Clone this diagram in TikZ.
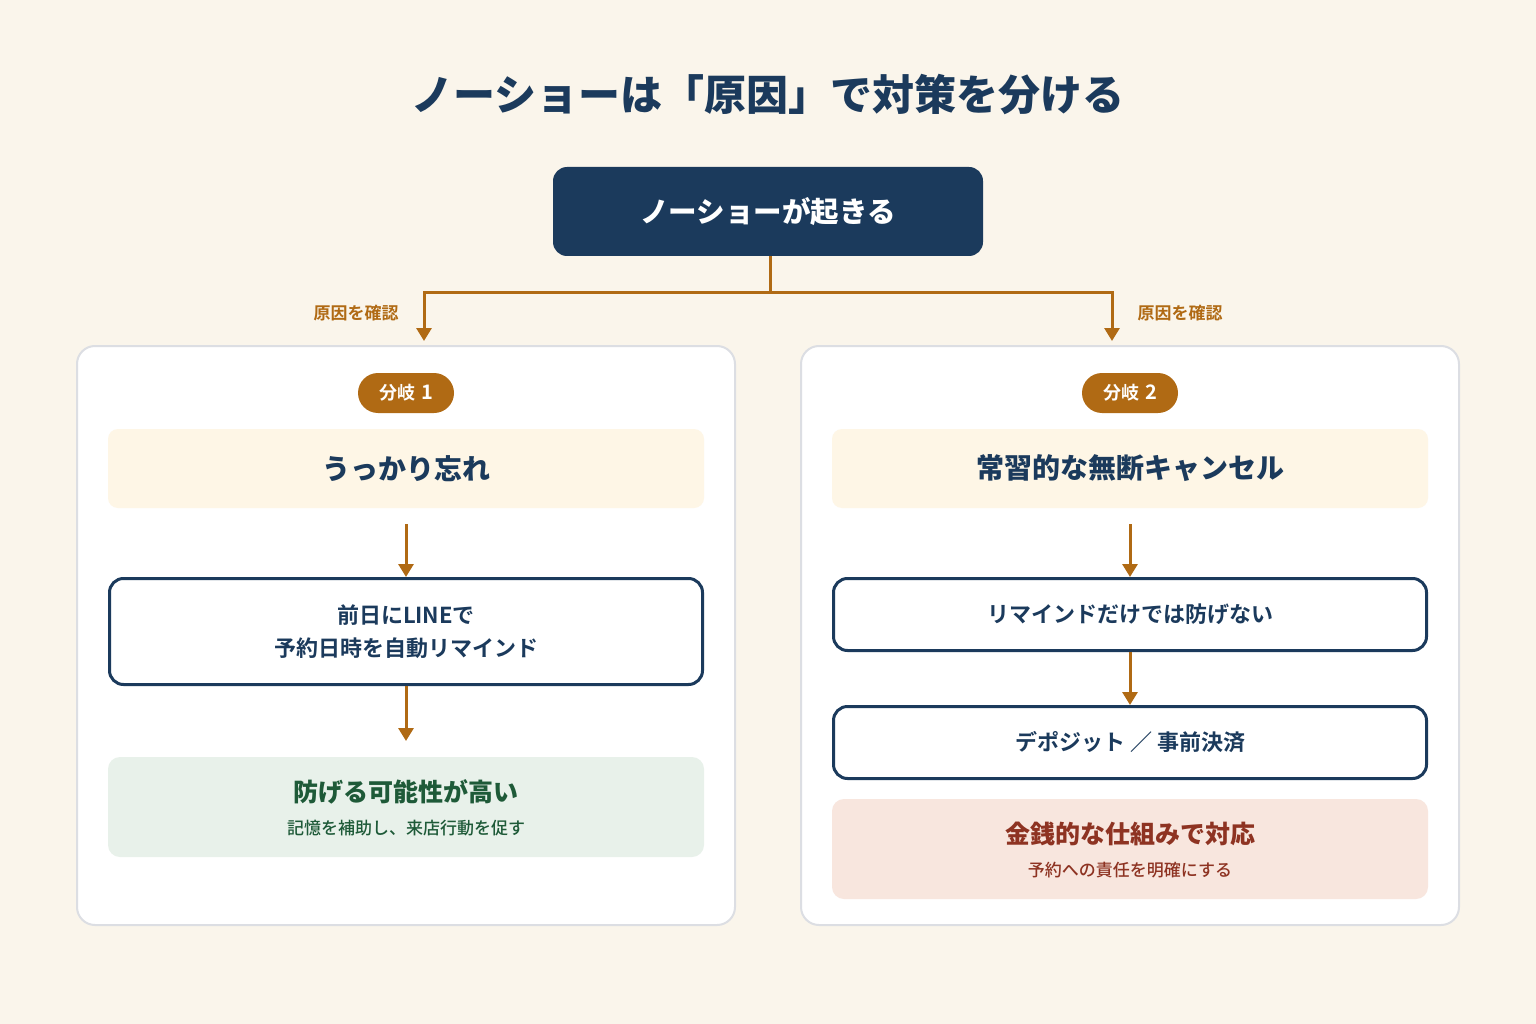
\documentclass[tikz,border=0pt]{standalone}
\usepackage{fontspec}
\usetikzlibrary{arrows.meta}
\usepackage{xcolor}
\newfontfamily\jp{Noto Sans CJK JP}[BoldFont={* Bold}]
\IfFontExistsTF{Noto Sans CJK JP Black}
  {\newfontfamily\jpheavy{Noto Sans CJK JP Black}}
  {\newfontfamily\jpheavy{Noto Sans CJK JP}[UprightFont={* Bold}]}
\IfFontExistsTF{Noto Sans CJK JP Medium}
  {\newfontfamily\jpmed{Noto Sans CJK JP Medium}}
  {\newfontfamily\jpmed{Noto Sans CJK JP}}
\definecolor{bgcream}{HTML}{FAF5EB}
\definecolor{navy}{HTML}{1B3A5C}
\definecolor{amber}{HTML}{B06A14}
\definecolor{panelline}{HTML}{DCDEE3}
\definecolor{causefill}{HTML}{FEF6E6}
\definecolor{goodfill}{HTML}{E8F1EA}
\definecolor{goodtext}{HTML}{1E5A38}
\definecolor{payfill}{HTML}{F8E6DE}
\definecolor{paytext}{HTML}{8E3322}

\tikzset{
  flow/.style={draw=amber, line width=3pt, -{Triangle[width=15pt,length=13pt]}},
  panel/.style={draw=panelline, line width=2pt, fill=white, rounded corners=18pt,
    minimum width=658pt, minimum height=579pt},
  badge/.style={fill=amber, text=white, rounded corners=20pt, minimum width=96pt,
    minimum height=40pt, font=\jp\bfseries\fontsize{18}{20}\selectfont},
  causebox/.style={fill=causefill, rounded corners=10pt, minimum width=596pt,
    minimum height=79pt, text=navy, font=\jpheavy\fontsize{28}{32}\selectfont},
  stepbox/.style={draw=navy, line width=3pt, fill=white, rounded corners=14pt,
    minimum width=593pt, text=navy, align=center,
    font=\jp\bfseries\fontsize{22}{33}\selectfont},
  resultbox/.style={rounded corners=12pt, minimum width=596pt, minimum height=100pt},
  checklabel/.style={text=amber, font=\jp\bfseries\fontsize{17}{20}\selectfont},
}

\begin{document}
\begin{tikzpicture}[x=1pt, y=-1pt]

\fill[bgcream] (0,0) rectangle (1536,1024);
\useasboundingbox (0,0) rectangle (1536,1024);

% title
\node[text=navy, font=\jpheavy\fontsize{42}{46}\selectfont] (title) at (768,95)
  {ノーショーは「原因」で対策を分ける};

% trigger
\node[fill=navy, rounded corners=14pt, minimum width=430pt, minimum height=89pt,
  text=white, font=\jpheavy\fontsize{28.5}{32}\selectfont] (noshow) at (768,211.5)
  {ノーショーが起きる};

% two panels
\node[panel] (panelA) at (406,635.5) {};
\node[panel] (panelB) at (1130,635.5) {};

\coordinate (split) at (770,292);
\coordinate (tipA) at (424,341);
\coordinate (tipB) at (1112,341);
\draw[flow] (noshow.south -| split) -- (split) -| (tipA);
\draw[flow] (split) -| (tipB);
\node[checklabel] (checkA) at (356,313) {原因を確認};
\node[checklabel] (checkB) at (1180,313) {原因を確認};

% branch 1
\node[badge] (badgeA) at (406,393) {分岐\hspace{6pt}{\fontsize{20}{20}\selectfont 1}};
\node[causebox] (forgetA) at (406,468.5) {うっかり忘れ};
\node[stepbox, minimum height=106pt] (lineA) at (406,631.5)
  {前日にLINEで\\予約日時を自動リマインド};
\node[resultbox, fill=goodfill] (resultA) at (406,807) {};
\node[text=goodtext, font=\jpheavy\fontsize{25}{28}\selectfont] (resA1) at (406,792)
  {防げる可能性が高い};
\node[text=goodtext, font=\jpmed\fontsize{17}{20}\selectfont] (resA2) at (406,828)
  {記憶を補助し、来店行動を促す};
\draw[flow] (406,524) -- (lineA.north);
\draw[flow] (lineA.south) -- (406,741);

% branch 2
\node[badge] (badgeB) at (1130,393) {分岐\hspace{6pt}{\fontsize{20}{20}\selectfont 2}};
\node[causebox] (habitB) at (1130,468.5) {常習的な無断キャンセル};
\node[stepbox, minimum height=72pt] (remindB) at (1130,614.5)
  {リマインドだけでは防げない};
\node[stepbox, minimum height=72pt] (depositB) at (1130,742.5)
  {デポジット ／ 事前決済};
\node[resultbox, fill=payfill] (resultB) at (1130,849) {};
\node[text=paytext, font=\jpheavy\fontsize{25}{28}\selectfont] (resB1) at (1130,834)
  {金銭的な仕組みで対応};
\node[text=paytext, font=\jpmed\fontsize{17}{20}\selectfont] (resB2) at (1130,870)
  {予約への責任を明確にする};
\draw[flow] (1130,524) -- (remindB.north);
\draw[flow] (remindB.south) -- (depositB.north);

\end{tikzpicture}
\end{document}
